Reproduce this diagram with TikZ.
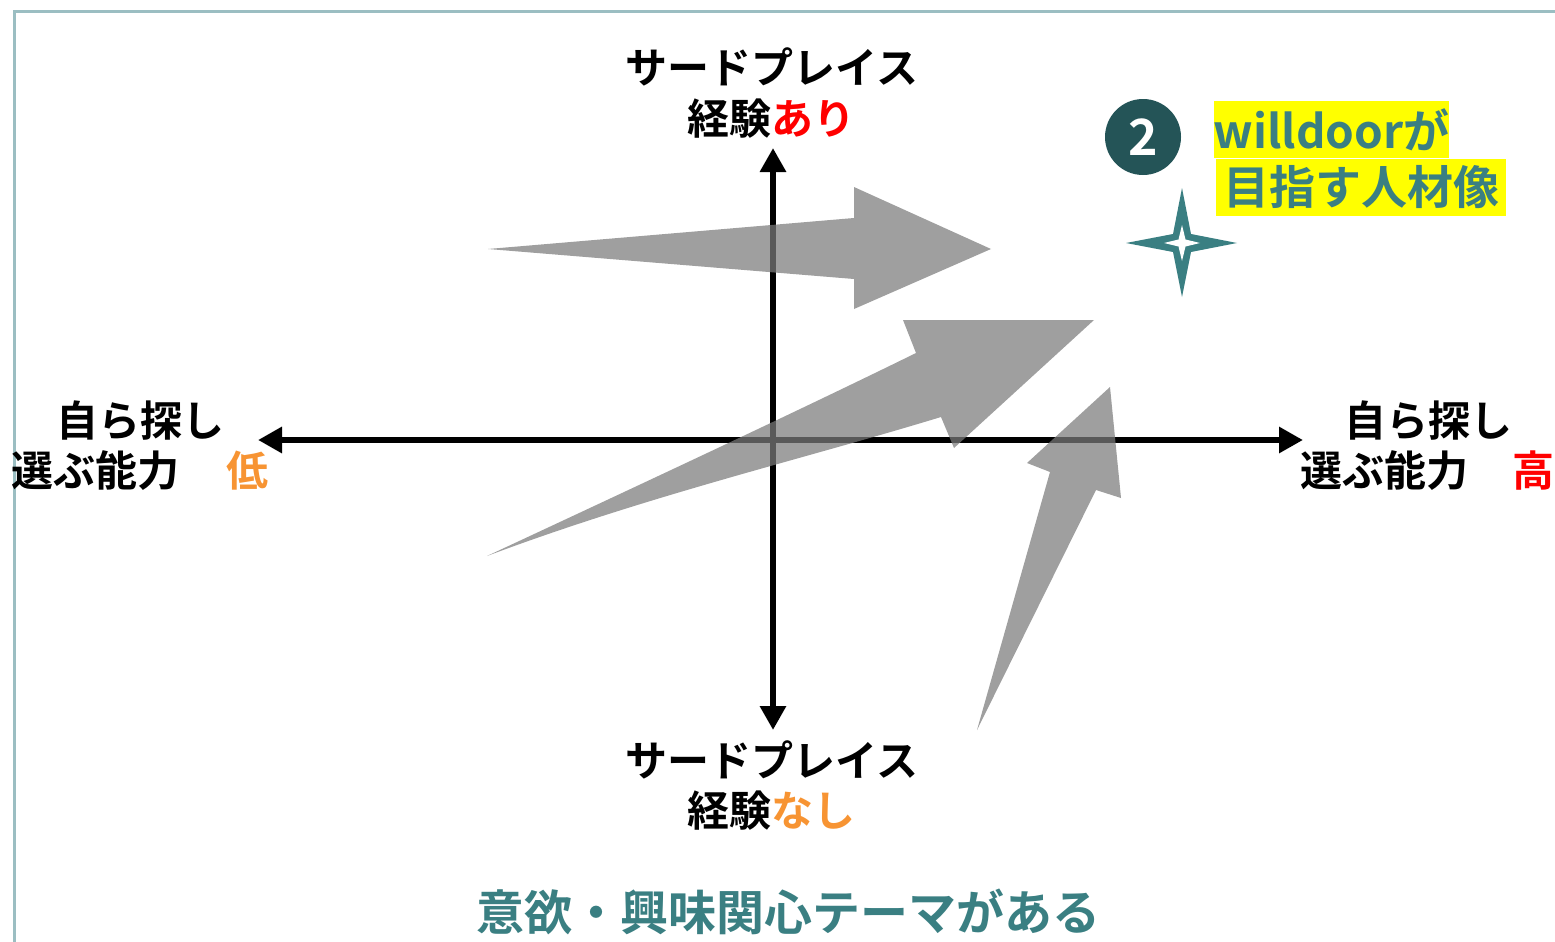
\documentclass[tikz,border=0pt]{standalone}
\usepackage{fontspec}
\setmainfont{Noto Sans CJK JP}[BoldFont={Noto Sans CJK JP Bold}]
\usetikzlibrary{arrows.meta}
\definecolor{framec}{HTML}{9BBEC2}
\definecolor{tealc}{HTML}{3A7F82}
\definecolor{tealdark}{HTML}{245457}
\definecolor{redc}{HTML}{FF0000}
\definecolor{orangec}{HTML}{F79433}
\definecolor{grayc}{HTML}{7B7B7B}
\definecolor{hlc}{HTML}{FFFF00}
\begin{document}
\begin{tikzpicture}[x=1pt,y=-1pt,
  lbl/.style={font=\fontsize{42}{50}\selectfont\bfseries, inner sep=0, anchor=base, text=black},
  ttl/.style={font=\fontsize{48}{56}\selectfont\bfseries, inner sep=0, anchor=base, text=tealc},
  hlbox/.style={fill=hlc, inner sep=0, text=tealc, font=\fontsize{46}{54}\selectfont\bfseries, minimum height=57pt},
  axis/.style={line width=6.5pt, {Triangle[length=24pt,width=25pt]}-{Triangle[length=24pt,width=25pt]}},
  bigarrow/.style={fill=grayc, fill opacity=0.73, draw=none}
]
\useasboundingbox (0,0) rectangle (1555,942);
% frame
\draw[framec, line width=3pt] (14,942) -- (14,11.5) -- (1555,11.5);

% axes
\coordinate (xl) at (258,440);
\coordinate (xr) at (1303,440);
\coordinate (yt) at (773,148);
\coordinate (yb) at (773,730);
\draw[axis] (xl) -- (xr);
\draw[axis] (yt) -- (yb);

% gray arrows
\fill[bigarrow] (488,249) -- (854,218) -- (854,187) -- (991,249) -- (854,309) -- (854,279) -- cycle;
\fill[bigarrow] (487,556) .. controls (650,480) and (800,410) .. (916,353) -- (903,320) -- (1094,320) -- (954,448) -- (941,417) .. controls (800,460) and (650,495) .. cycle;
\fill[bigarrow] (977,730) -- (1050,472) -- (1027,463) -- (1110,387) -- (1121,498) -- (1096,490) -- cycle;

% labels
\node[lbl] (topa) at (772,84) {サードプレイス};
\node[lbl] (topb) at (771,134) {経験{\color{redc}あり}};
\node[lbl] (bota) at (772,776) {サードプレイス};
\node[lbl] (botb) at (771,826) {経験{\color{orangec}なし}};
\node[lbl] (lefta) at (140,436) {自ら探し};
\node[lbl] (leftb) at (96,486) {選ぶ能力};
\node[lbl, text=orangec] (leftc) at (247,486) {低};
\node[lbl] (righta) at (1428,436) {自ら探し};
\node[lbl] (rightb) at (1384,486) {選ぶ能力};
\node[lbl, text=redc] (rightc) at (1533,486) {高};
\node[ttl] (title) at (788,930) {意欲・興味関心テーマがある};

% badge
\node[circle, fill=tealdark, minimum size=76pt, inner sep=0, text=white, font=\fontsize{50}{56}\selectfont\bfseries] (badge) at (1143,137) {2};
\node[hlbox, minimum width=233pt] (hl1) at (1331.5,129.5) {willdoorが};
\node[hlbox, minimum width=290pt] (hl2) at (1361,187.5) {目指す人材像};

% star
\fill[tealc] (1182,188) -- (1191,234) -- (1237,243) -- (1191,252) -- (1182,297) -- (1173,252) -- (1126,243) -- (1173,234) -- cycle;
\fill[white] (1182,225) -- (1185.5,239.5) -- (1200,243) -- (1185.5,246.5) -- (1182,261) -- (1178.5,246.5) -- (1164,243) -- (1178.5,239.5) -- cycle;
\end{tikzpicture}
\end{document}
